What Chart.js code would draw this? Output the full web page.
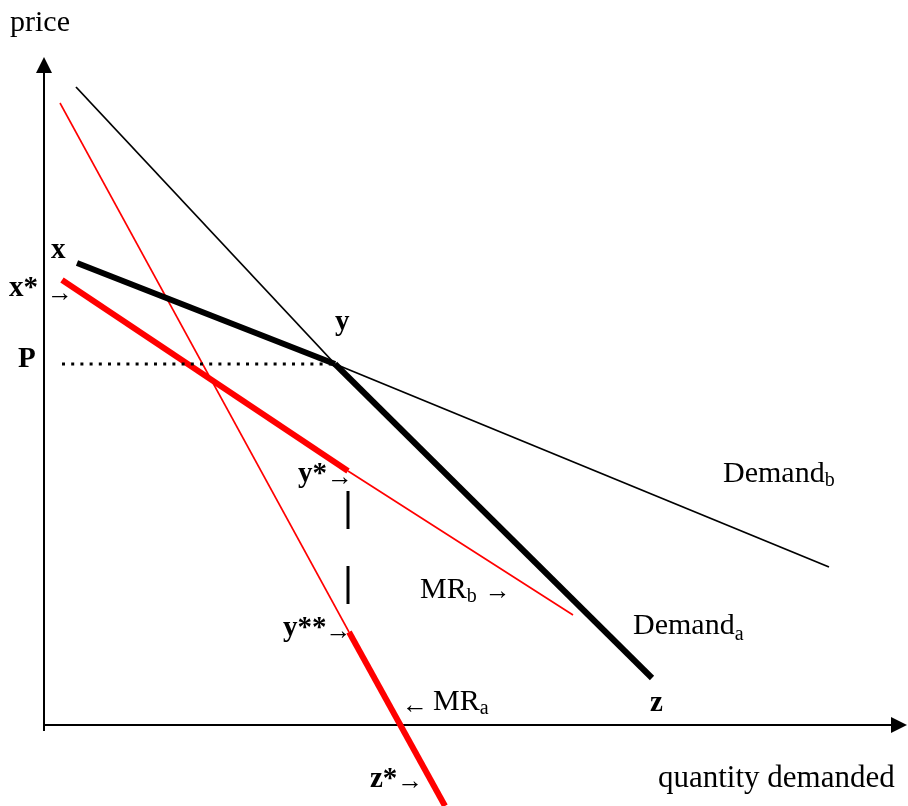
<!DOCTYPE html>
<html>
<head>
<meta charset="utf-8">
<script src="https://cdn.jsdelivr.net/npm/chart.js@4.4.1/dist/chart.umd.min.js"></script>
<style>
  html, body { margin: 0; padding: 0; background: #fff; }
  #wrap { width: 908px; height: 806px; position: relative; }
</style>
</head>
<body>
<div id="wrap"><canvas id="kinkChart"></canvas></div>
<script>
// quantity / price in diagram units, origin where the two axes meet
const demandAQty = [3.2, 29.1, 60.8];
const demandAPrice = [63.8, 36.1, 4.7];
const demandBQty = [3.3, 29.1, 78.5];
const demandBPrice = [46.2, 36.1, 15.8];
const mrAQty = [1.6, 30.5, 40.1];
const mrAPrice = [62.2, 9.3, -8.1];
const mrBQty = [1.8, 30.4, 52.9];
const mrBPrice = [44.5, 25.4, 11.0];
const priceP = 36.1;
const priceLineQty = [1.8, 29.1];
const gapQty = 30.4;
const gapPrice = [23.4, 12.1];
const axisEnd = { q: 86.3, p: 66.8 };

const SERIF = "'Liberation Serif', 'Times New Roman', serif";
const F = {
  reg: `30px ${SERIF}`,
  big: `31px ${SERIF}`,
  bold: `bold 29px ${SERIF}`,
  sub: `20px ${SERIF}`,
  arr: `26px ${SERIF}`,
};

// each label: anchor (q, p) = left edge / baseline, then text runs laid out left to right
const labels = [
  { q: -3.4, p: 69.4, runs: [{ t: 'price', f: F.reg }] },
  { q: 0.7, p: 46.7, runs: [{ t: 'x', f: F.bold }] },
  { q: -3.5, p: 42.9, runs: [{ t: 'x*', f: F.bold }, { t: '→', f: F.arr, dx: 9, dy: 5 }] },
  { q: 29.1, p: 39.5, runs: [{ t: 'y', f: F.bold }] },
  { q: -2.6, p: 35.8, runs: [{ t: 'P', f: F.bold }] },
  { q: 25.4, p: 24.3, runs: [{ t: 'y*', f: F.bold }, { t: '→', f: F.arr, dx: 0, dy: 3 }] },
  { q: 23.9, p: 8.9, runs: [{ t: 'y**', f: F.bold }, { t: '→', f: F.arr, dx: -1, dy: 3 }] },
  { q: 37.6, p: 12.7, runs: [{ t: 'MR', f: F.reg }, { t: 'b', f: F.sub, dy: 4 }, { t: '→', f: F.arr, dx: 8, dy: 1 }] },
  { q: 67.9, p: 24.3, runs: [{ t: 'Demand', f: F.reg }, { t: 'b', f: F.sub, dy: 4 }] },
  { q: 58.9, p: 9.1, runs: [{ t: 'Demand', f: F.reg }, { t: 'a', f: F.sub, dy: 6 }] },
  { q: 35.8, p: 1.5, runs: [{ t: '←', f: F.arr, dy: 3 }, { t: 'MR', f: F.reg, dx: 5 }, { t: 'a', f: F.sub, dy: 4 }] },
  { q: 60.6, p: 1.4, runs: [{ t: 'z', f: F.bold }] },
  { q: 32.6, p: -6.2, runs: [{ t: 'z*', f: F.bold }, { t: '→', f: F.arr, dx: 0, dy: 2 }] },
  { q: 61.4, p: -6.2, runs: [{ t: 'quantity demanded', f: F.big }] },
];

function seg(qs, ps, i, j, color, width, extra) {
  return Object.assign({
    data: [{ x: qs[i], y: ps[i] }, { x: qs[j], y: ps[j] }],
    borderColor: color,
    borderWidth: width,
    borderCapStyle: 'butt',
    showLine: true,
    pointRadius: 0,
    fill: false,
    clip: false,
  }, extra || {});
}

const axesPlugin = {
  id: 'axes',
  beforeDatasetsDraw(chart) {
    const { ctx, scales: { x, y } } = chart;
    const x0 = x.getPixelForValue(0), y0 = y.getPixelForValue(0);
    const xt = x.getPixelForValue(axisEnd.q), yt = y.getPixelForValue(axisEnd.p);
    ctx.save();
    ctx.strokeStyle = '#000';
    ctx.fillStyle = '#000';
    ctx.lineWidth = 2;
    ctx.beginPath();
    ctx.moveTo(x0, y0 + 6);
    ctx.lineTo(x0, yt + 10);
    ctx.moveTo(x0 - 1, y0);
    ctx.lineTo(xt - 10, y0);
    ctx.stroke();
    ctx.beginPath();
    ctx.moveTo(x0, yt);
    ctx.lineTo(x0 - 8, yt + 16);
    ctx.lineTo(x0 + 8, yt + 16);
    ctx.closePath();
    ctx.fill();
    ctx.beginPath();
    ctx.moveTo(xt, y0);
    ctx.lineTo(xt - 16, y0 - 8);
    ctx.lineTo(xt - 16, y0 + 8);
    ctx.closePath();
    ctx.fill();
    ctx.restore();
  },
};

const labelPlugin = {
  id: 'labels',
  afterDatasetsDraw(chart) {
    const { ctx, scales: { x, y } } = chart;
    ctx.save();
    ctx.fillStyle = '#000';
    ctx.textBaseline = 'alphabetic';
    ctx.textAlign = 'left';
    labels.forEach(l => {
      let px = x.getPixelForValue(l.q);
      const py = y.getPixelForValue(l.p);
      l.runs.forEach(r => {
        ctx.font = r.f;
        px += r.dx || 0;
        ctx.fillText(r.t, px, py + (r.dy || 0));
        px += ctx.measureText(r.t).width;
      });
    });
    ctx.restore();
  },
};

new Chart(document.getElementById('kinkChart'), {
  type: 'scatter',
  data: {
    datasets: [
      seg(priceLineQty, [priceP, priceP], 0, 1, '#000', 3, { borderDash: [3, 6.2] }),
      seg([gapQty, gapQty], gapPrice, 0, 1, '#000', 3, { borderDash: [38, 37] }),
      seg(demandAQty, demandAPrice, 0, 1, '#000', 1.8),
      seg(demandAQty, demandAPrice, 1, 2, '#000', 6),
      seg(demandBQty, demandBPrice, 0, 1, '#000', 6),
      seg(demandBQty, demandBPrice, 1, 2, '#000', 1.8),
      seg(mrAQty, mrAPrice, 0, 1, '#ff0000', 1.6),
      seg(mrAQty, mrAPrice, 1, 2, '#ff0000', 6),
      seg(mrBQty, mrBPrice, 0, 1, '#ff0000', 6),
      seg(mrBQty, mrBPrice, 1, 2, '#ff0000', 1.6),
    ],
  },
  options: {
    responsive: true,
    maintainAspectRatio: false,
    animation: false,
    layout: { padding: 0 },
    plugins: { legend: { display: false }, tooltip: { enabled: false } },
    scales: {
      x: { type: 'linear', display: false, min: -4.4, max: 86.4 },
      y: { type: 'linear', display: false, min: -8.1, max: 72.5 },
    },
  },
  plugins: [axesPlugin, labelPlugin],
});
</script>
</body>
</html>
